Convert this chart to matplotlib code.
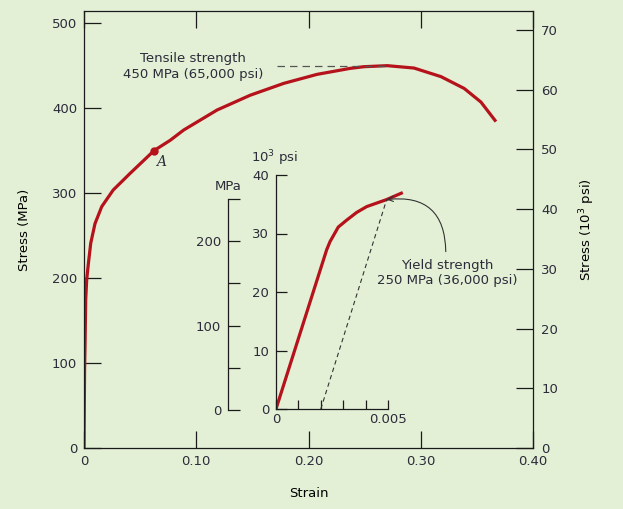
import numpy as np
import matplotlib.pyplot as plt

# main stress-strain curve (MPa)
strain = [0, 0.0005, 0.001, 0.0015, 0.0024, 0.0039, 0.006, 0.0098, 0.0158, 0.026, 0.041,
          0.0625, 0.0768, 0.0887, 0.1185, 0.148, 0.178, 0.2077, 0.2375, 0.2494, 0.2702,
          0.294, 0.318, 0.3387, 0.3536, 0.367]
stress = [0, 90, 127, 174, 198, 217, 241, 264, 284, 303.5, 323,
          350, 362, 374, 397.6, 415, 429, 439.6, 446.7, 448.6, 449.8,
          447, 436.9, 423, 407, 384]
point_a = (0.0625, 350)
tensile = 450

# inset: early region (10^3 psi)
in_strain = [0, 0.00226, 0.00241, 0.00278, 0.00316, 0.0036, 0.00405, 0.00494, 0.00566]
in_ksi = [0, 27.2, 28.6, 31.1, 32.3, 33.6, 34.6, 35.8, 37.0]
yield_pt = (0.00494, 35.8)
offset = 0.002

bg = '#e3f0d6'
red = '#b5121b'
txt = '#2b2b3a'

plt.rcParams['font.family'] = 'DejaVu Sans'
plt.rcParams['font.size'] = 9.5
plt.rcParams['text.color'] = txt
plt.rcParams['xtick.color'] = '#1a1a1a'
plt.rcParams['ytick.color'] = '#1a1a1a'
plt.rcParams['xtick.labelcolor'] = txt
plt.rcParams['ytick.labelcolor'] = txt

W, H = 623, 509
fig = plt.figure(figsize=(6.23, 5.09), dpi=100, facecolor=bg)

def box(x0, y0, x1, y1):
    return [x0 / W, 1 - y1 / H, (x1 - x0) / W, (y1 - y0) / H]

ax = fig.add_axes(box(84, 11, 533, 448))
ax.set_facecolor('none')
ax.plot(strain, stress, color=red, lw=2.3, solid_capstyle='butt', solid_joinstyle='round')
ax.plot(*point_a, 'o', color=red, ms=5)
ax.text(point_a[0] + 0.0015, point_a[1] - 14, 'A', family='DejaVu Serif', style='italic',
        fontsize=10, ha='left', va='center')
ax.plot([0.172, 0.272], [tensile, tensile], color='#555555', lw=0.9, dashes=(6, 4))
ax.text(0.097, 449, 'Tensile strength\n450 MPa (65,000 psi)', ha='center', va='center',
        linespacing=1.25)
ax.set_xlim(0, 0.40)
ax.set_ylim(0, 500 * 437 / 425)
ax.set_xticks([0, 0.1, 0.2, 0.3, 0.4])
ax.set_xticklabels(['0', '0.10', '0.20', '0.30', '0.40'])
ax.set_yticks([0, 100, 200, 300, 400, 500])
ax.tick_params(direction='in', length=12, width=0.9, pad=5, top=True)
for s in ax.spines.values():
    s.set_linewidth(0.9)
    s.set_color('#1a1a1a')
ax.set_xlabel('Strain', labelpad=14)
ax.set_ylabel('Stress (MPa)', labelpad=15)

ax2 = ax.twinx()
ax2.set_ylim(0, 70 * 437 / 418)
ax2.set_yticks(range(0, 80, 10))
ax2.tick_params(direction='in', length=12.5, width=0.9, pad=6)
for s in ax2.spines.values():
    s.set_visible(False)
ax2.set_ylabel('Stress (10$^3$ psi)', labelpad=14)

# inset, psi axis
axi = fig.add_axes(box(276, 175, 410.4, 409))
axi.set_facecolor('none')
axi.plot(in_strain, in_ksi, color=red, lw=2.3, solid_capstyle='butt', solid_joinstyle='round')
axi.plot([offset, yield_pt[0]], [0, yield_pt[1]], color='#333333', lw=0.8, dashes=(4, 3))
axi.set_xlim(0, 0.006)
axi.set_ylim(0, 40)
axi.spines['top'].set_visible(False)
axi.spines['right'].set_visible(False)
axi.spines['bottom'].set_bounds(0, 0.005)
for s in ('left', 'bottom'):
    axi.spines[s].set_linewidth(0.9)
    axi.spines[s].set_color('#1a1a1a')
axi.set_xticks(np.arange(0, 0.0051, 0.001))
axi.set_xticklabels(['0', '', '', '', '', '0.005'])
axi.set_yticks([0, 10, 20, 30, 40])
axi.tick_params(axis='x', direction='in', length=6.5, width=0.9, pad=3)
axi.tick_params(axis='y', direction='in', length=8, width=0.9, pad=5)

# inset, MPa axis
axm = fig.add_axes(box(228, 199, 240, 410))
axm.set_facecolor('none')
axm.set_ylim(0, 250)
axm.set_xticks([])
for s in ('top', 'right', 'bottom'):
    axm.spines[s].set_visible(False)
axm.spines['left'].set_linewidth(0.9)
axm.spines['left'].set_color('#1a1a1a')
axm.set_yticks([0, 50, 100, 150, 200, 250])
axm.set_yticklabels(['0', '', '100', '', '200', ''])
axm.tick_params(axis='y', direction='in', length=8.5, width=0.9, pad=5)

fig.text(228 / W, 1 - 186 / H, 'MPa', ha='center', va='center')
fig.text(275 / W, 1 - 158 / H, '10$^3$ psi', ha='center', va='center')

ax.text(0.3238, 206, 'Yield strength\n250 MPa (36,000 psi)', ha='center', va='center',
        linespacing=1.25)
axi.annotate('', xy=yield_pt, xycoords='data', xytext=(0.3223, 231), textcoords=ax.transData,
             arrowprops=dict(arrowstyle='->', color='#333333', lw=0.8,
                             connectionstyle='arc3,rad=0.55', shrinkA=0, shrinkB=0))

fig.savefig('out.png', dpi=100, facecolor=bg)
